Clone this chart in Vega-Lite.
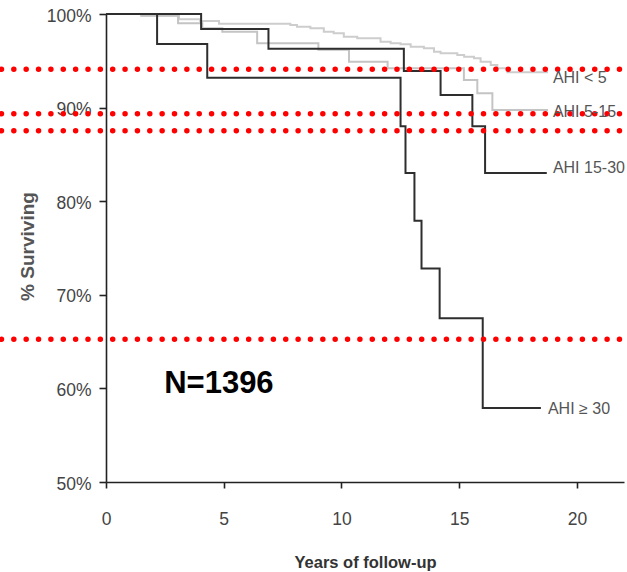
{
  "$schema": "https://vega.github.io/schema/vega-lite/v6.json",
  "autosize": {"type": "none"},
  "width": 518,
  "height": 468,
  "padding": {"left": 106, "top": 14, "right": 3, "bottom": 90},
  "background": "white",
  "config": {
    "view": {"stroke": null},
    "font": "Liberation Sans",
    "axisX": {
      "grid": false, "domainColor": "#222", "domainWidth": 1.6, "tickColor": "#222", "tickWidth": 1.6, "tickSize": 6,
      "labelFontSize": 17.5, "labelColor": "#444", "labelPadding": 22, "labelFlush": false,
      "titleFontSize": 16.5, "titleFontWeight": "bold", "titleColor": "#333",
      "titleY": 72, "titleBaseline": "top"
    },
    "axisY": {
      "grid": false, "domainColor": "#222", "domainWidth": 1.6, "tickColor": "#222", "tickWidth": 1.6, "tickSize": 7,
      "labelFontSize": 17.5, "labelColor": "#444", "labelPadding": 8, "labelOffset": 2, "labelFlush": false,
      "titleFontSize": 19, "titleFontWeight": "bold", "titleColor": "#555",
      "titleX": -79, "titleY": 232, "titleAngle": 270, "titleAlign": "center", "titleBaseline": "middle"
    }
  },
  "datasets": {
    "curves": [
      {"group": "AHI < 5", "year": 0, "pct": 100},
      {"group": "AHI < 5", "year": 1.5, "pct": 99.85},
      {"group": "AHI < 5", "year": 3.1, "pct": 99.45},
      {"group": "AHI < 5", "year": 4.0, "pct": 99.25},
      {"group": "AHI < 5", "year": 4.8, "pct": 98.95},
      {"group": "AHI < 5", "year": 7.83, "pct": 98.82},
      {"group": "AHI < 5", "year": 8.11, "pct": 98.65},
      {"group": "AHI < 5", "year": 8.68, "pct": 98.47},
      {"group": "AHI < 5", "year": 9.25, "pct": 98.11},
      {"group": "AHI < 5", "year": 9.67, "pct": 97.94},
      {"group": "AHI < 5", "year": 10.1, "pct": 97.57},
      {"group": "AHI < 5", "year": 10.67, "pct": 97.4},
      {"group": "AHI < 5", "year": 11.66, "pct": 97.04},
      {"group": "AHI < 5", "year": 12.09, "pct": 96.87},
      {"group": "AHI < 5", "year": 12.51, "pct": 96.76},
      {"group": "AHI < 5", "year": 12.94, "pct": 96.51},
      {"group": "AHI < 5", "year": 13.5, "pct": 96.34},
      {"group": "AHI < 5", "year": 13.93, "pct": 95.97},
      {"group": "AHI < 5", "year": 14.21, "pct": 95.8},
      {"group": "AHI < 5", "year": 14.92, "pct": 95.62},
      {"group": "AHI < 5", "year": 15.21, "pct": 95.44},
      {"group": "AHI < 5", "year": 15.63, "pct": 95.26},
      {"group": "AHI < 5", "year": 15.91, "pct": 94.9},
      {"group": "AHI < 5", "year": 16.34, "pct": 94.55},
      {"group": "AHI < 5", "year": 16.62, "pct": 94.2},
      {"group": "AHI < 5", "year": 17.05, "pct": 93.77},
      {"group": "AHI < 5", "year": 18.77, "pct": 93.77},
      {"group": "AHI 5-15", "year": 0, "pct": 100},
      {"group": "AHI 5-15", "year": 1.5, "pct": 99.8},
      {"group": "AHI 5-15", "year": 3.06, "pct": 99.0},
      {"group": "AHI 5-15", "year": 4.09, "pct": 98.47},
      {"group": "AHI 5-15", "year": 4.94, "pct": 98.11},
      {"group": "AHI 5-15", "year": 6.42, "pct": 96.87},
      {"group": "AHI 5-15", "year": 9.02, "pct": 96.19},
      {"group": "AHI 5-15", "year": 10.32, "pct": 94.9},
      {"group": "AHI 5-15", "year": 11.96, "pct": 94.2},
      {"group": "AHI 5-15", "year": 15.2, "pct": 92.95},
      {"group": "AHI 5-15", "year": 15.77, "pct": 91.53},
      {"group": "AHI 5-15", "year": 16.41, "pct": 89.74},
      {"group": "AHI 5-15", "year": 18.77, "pct": 89.74},
      {"group": "AHI 15-30", "year": 0, "pct": 100},
      {"group": "AHI 15-30", "year": 4.04, "pct": 98.4},
      {"group": "AHI 15-30", "year": 6.9, "pct": 96.3},
      {"group": "AHI 15-30", "year": 12.65, "pct": 93.9},
      {"group": "AHI 15-30", "year": 14.21, "pct": 91.35},
      {"group": "AHI 15-30", "year": 15.56, "pct": 88.0},
      {"group": "AHI 15-30", "year": 16.1, "pct": 83.0},
      {"group": "AHI 15-30", "year": 18.72, "pct": 83.0},
      {"group": "AHI ≥ 30", "year": 0, "pct": 100},
      {"group": "AHI ≥ 30", "year": 2.17, "pct": 96.8},
      {"group": "AHI ≥ 30", "year": 4.3, "pct": 93.2},
      {"group": "AHI ≥ 30", "year": 12.51, "pct": 88.0},
      {"group": "AHI ≥ 30", "year": 12.72, "pct": 83.0},
      {"group": "AHI ≥ 30", "year": 13.1, "pct": 77.9},
      {"group": "AHI ≥ 30", "year": 13.4, "pct": 72.8},
      {"group": "AHI ≥ 30", "year": 14.17, "pct": 67.5},
      {"group": "AHI ≥ 30", "year": 16.0, "pct": 57.9},
      {"group": "AHI ≥ 30", "year": 18.47, "pct": 57.9}
    ],
    "refs": [
      {"year": -4.44, "year2": 22.2, "pct": 94.1},
      {"year": -4.44, "year2": 22.2, "pct": 89.35},
      {"year": -4.44, "year2": 22.2, "pct": 87.53},
      {"year": -4.44, "year2": 22.2, "pct": 65.24}
    ],
    "labels": [
      {"label": "AHI < 5", "year": 18.98, "pct": 93.2},
      {"label": "AHI 5-15", "year": 18.98, "pct": 89.58},
      {"label": "AHI 15-30", "year": 18.98, "pct": 83.6},
      {"label": "AHI ≥ 30", "year": 18.77, "pct": 57.85}
    ],
    "note": [
      {"label": "N=1396", "year": 2.47, "pct": 60.5}
    ]
  },
  "layer": [
    {
      "data": {"name": "curves"},
      "mark": {"type": "line", "interpolate": "step-after", "strokeWidth": 2},
      "encoding": {
        "x": {
          "field": "year", "type": "quantitative", "title": "Years of follow-up",
          "scale": {"domain": [0, 22], "nice": false, "zero": false},
          "axis": {"values": [0, 5, 10, 15, 20], "title": "Years of follow-up"}
        },
        "y": {
          "field": "pct", "type": "quantitative", "title": "% Surviving",
          "scale": {"domain": [50, 100], "nice": false, "zero": false},
          "axis": {"values": [50, 60, 70, 80, 90, 100], "labelExpr": "datum.value + '%'", "title": "% Surviving"}
        },
        "color": {
          "field": "group", "type": "nominal",
          "scale": {"domain": ["AHI < 5", "AHI 5-15", "AHI 15-30", "AHI ≥ 30"], "range": ["#cdcdcd", "#c4c4c4", "#2e2e2e", "#2e2e2e"]},
          "legend": null
        },
        "order": {"field": "year", "type": "quantitative"}
      }
    },
    {
      "data": {"name": "refs"},
      "mark": {"type": "rule", "color": "#ff0000", "strokeWidth": 5.5, "strokeCap": "round", "strokeDash": [0.01, 12.35]},
      "encoding": {
        "x": {"field": "year", "type": "quantitative", "title": "Years of follow-up"},
        "x2": {"field": "year2"},
        "y": {"field": "pct", "type": "quantitative", "title": "% Surviving"}
      }
    },
    {
      "data": {"name": "labels"},
      "mark": {"type": "text", "align": "left", "baseline": "middle", "fontSize": 16, "color": "#555"},
      "encoding": {
        "x": {"field": "year", "type": "quantitative", "title": "Years of follow-up"},
        "y": {"field": "pct", "type": "quantitative", "title": "% Surviving"},
        "text": {"field": "label"}
      }
    },
    {
      "data": {"name": "note"},
      "mark": {"type": "text", "align": "left", "baseline": "middle", "fontSize": 31, "fontWeight": "bold", "color": "#000"},
      "encoding": {
        "x": {"field": "year", "type": "quantitative", "title": "Years of follow-up"},
        "y": {"field": "pct", "type": "quantitative", "title": "% Surviving"},
        "text": {"field": "label"}
      }
    }
  ]
}
